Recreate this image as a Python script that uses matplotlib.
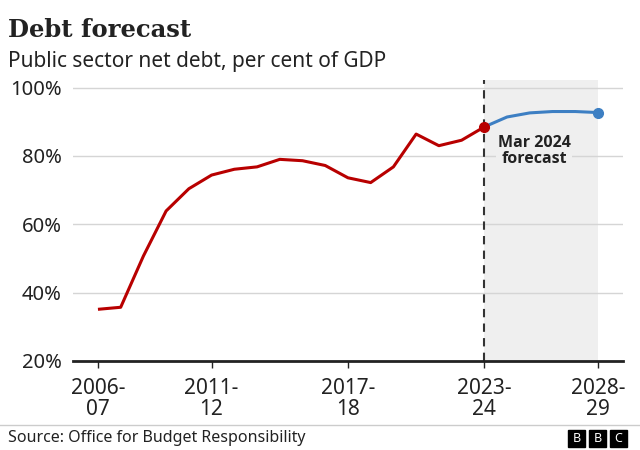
import matplotlib
matplotlib.use('Agg')
import matplotlib.pyplot as plt
from matplotlib.patches import Rectangle

# Данные: госдолг, % ВВП
years = ['2006-07', '2007-08', '2008-09', '2009-10', '2010-11', '2011-12',
         '2012-13', '2013-14', '2014-15', '2015-16', '2016-17', '2017-18',
         '2018-19', '2019-20', '2020-21', '2021-22', '2022-23', '2023-24',
         '2024-25', '2025-26', '2026-27', '2027-28', '2028-29']
actual = [35.1, 35.7, 50.7, 63.9, 70.4, 74.4, 76.1, 76.8, 79.0, 78.6, 77.2,
          73.6, 72.2, 76.8, 86.4, 83.0, 84.6, 88.5]
forecast = [88.5, 91.4, 92.6, 93.0, 93.0, 92.7]
tick_years = ['2006-07', '2011-12', '2017-18', '2023-24', '2028-29']
y_ticks = [20, 40, 60, 80, 100]

red = '#b80000'
blue = '#3d7fc3'
dark = '#222222'

plt.rcParams['font.family'] = ['Noto Sans', 'DejaVu Sans']

fig = plt.figure(figsize=(6.4, 4.5), dpi=100)
ax = fig.add_axes([0.114, 0.198, 0.859, 0.624])

x_act = list(range(len(actual)))
start = years.index('2023-24')
x_fc = list(range(start, start + len(forecast)))

# серая зона прогноза
ax.axvspan(start, len(years) - 1, color='#efefef', zorder=0, lw=0)
ax.axvline(start, color='#333333', lw=1.5, ls=(0, (4, 3)), zorder=3)

ax.plot(x_act, actual, color=red, lw=2.2, zorder=4, solid_capstyle='butt')
ax.plot(x_fc, forecast, color=blue, lw=2.2, zorder=4)
ax.plot(x_act[-1], actual[-1], 'o', color=red, ms=7, zorder=5)
ax.plot(x_fc[-1], forecast[-1], 'o', color=blue, ms=7, zorder=5)

ax.set_ylim(20, 102.2)
ax.set_xlim(-1.1, len(years) - 1 + 1.09)
ax.set_yticks(y_ticks)
ax.set_yticklabels([f'{v}%' for v in y_ticks], fontsize=14.5, color=dark)
ax.yaxis.grid(True, color='#d5d5d5', lw=1)
ax.set_axisbelow(True)
ax.tick_params(axis='y', length=0, pad=8)

xt = [years.index(y) for y in tick_years]
ax.set_xticks(xt)
ax.set_xticklabels([y.replace('-', '-\n') for y in tick_years], fontsize=15,
                   color=dark, linespacing=1.0)
ax.tick_params(axis='x', length=5, width=1, color=dark, pad=7)

for s in ['top', 'right', 'left']:
    ax.spines[s].set_visible(False)
ax.spines['bottom'].set_color(dark)
ax.spines['bottom'].set_linewidth(2)
ax.spines['bottom'].set_zorder(6)

ax.text(19.2, 81.4, 'Mar 2024\nforecast', ha='center', va='center',
        fontsize=11.5, fontweight='bold', family=['Open Sans', 'DejaVu Sans'],
        color=dark, linespacing=1.0,
        zorder=5, bbox=dict(facecolor='#efefef', edgecolor='none', pad=1))

# заголовки
fig.text(8 / 640, 1 - 30 / 450, 'Debt forecast', fontsize=17.5, fontweight='bold',
         family='DejaVu Serif', color=dark, va='center')
fig.text(8 / 640, 1 - 62 / 450, 'Public sector net debt, per cent of GDP',
         fontsize=15, color=dark, va='center')

# подвал
fig.add_artist(plt.Line2D([0, 1], [1 - 425 / 450] * 2, color='#cccccc', lw=1))
fig.text(8 / 640, 1 - 438 / 450, 'Source: Office for Budget Responsibility',
         fontsize=11.5, color=dark, va='center')
for i, letter in enumerate('BBC'):
    x0 = (568 + i * 21) / 640
    fig.add_artist(Rectangle((x0, 1 - 447 / 450), 17 / 640, 17 / 450,
                             transform=fig.transFigure, color='black'))
    fig.text(x0 + 8.5 / 640, 1 - 438.5 / 450, letter, color='white',
             fontsize=9, fontweight='bold', ha='center', va='center')

fig.savefig('out.png', dpi=100)
